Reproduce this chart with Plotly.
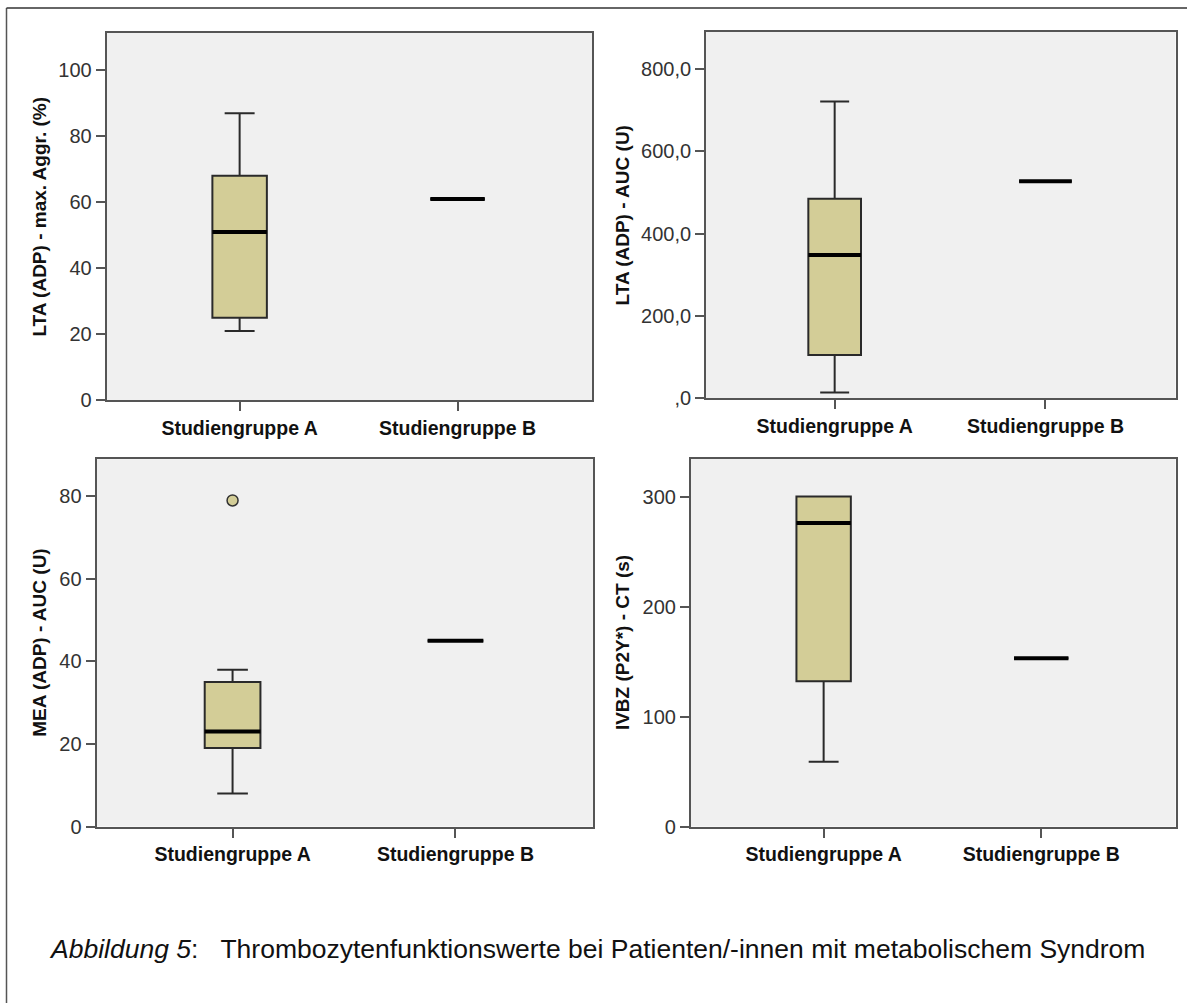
import plotly.graph_objects as go

W, H = 1187, 1003

groups = ["Studiengruppe A", "Studiengruppe B"]

# box statistics per group: [lower whisker, Q1, median, Q3, upper whisker]
lta_max_A = [21, 25, 51, 68, 87]
lta_max_B = [61, 61, 61, 61, 61]

lta_auc_A = [14, 105, 348, 485, 721]
lta_auc_B = [527, 527, 527, 527, 527]

mea_auc_A = [8, 19, 23, 35, 38]
mea_auc_B = [45, 45, 45, 45, 45]
mea_auc_A_outliers = [79]

ivbz_ct_A = [59, 132, 276, 300, 300]
ivbz_ct_B = [153, 153, 153, 153, 153]

y_titles = ["LTA (ADP) - max. Aggr. (%)", "LTA (ADP) - AUC (U)",
            "MEA (ADP) - AUC (U)", "IVBZ (P2Y*) - CT (s)"]

lta_max_ticks = [0, 20, 40, 60, 80, 100]
lta_max_ticktext = ["0", "20", "40", "60", "80", "100"]
lta_auc_ticks = [0, 200, 400, 600, 800]
lta_auc_ticktext = [",0", "200,0", "400,0", "600,0", "800,0"]
mea_auc_ticks = [0, 20, 40, 60, 80]
mea_auc_ticktext = ["0", "20", "40", "60", "80"]
ivbz_ct_ticks = [0, 100, 200, 300]
ivbz_ct_ticktext = ["0", "100", "200", "300"]

caption = ("<i>Abbildung 5</i>:\u00a0\u00a0\u00a0Thrombozytenfunktionswerte bei "
           "Patienten/-innen mit metabolischem Syndrom")

KHAKI = "#D3CD97"
FONT = "Liberation Sans, Arial, sans-serif"

panels = [
    dict(A=lta_max_A, B=lta_max_B, out=[], yr=[0, 111.3], tv=lta_max_ticks, tt=lta_max_ticktext,
         xd=[106.7, 592], yd=[33.3, 404.7]),
    dict(A=lta_auc_A, B=lta_auc_B, out=[], yr=[0, 890], tv=lta_auc_ticks, tt=lta_auc_ticktext,
         xd=[706.1, 1175.5], yd=[32.3, 402.7]),
    dict(A=mea_auc_A, B=mea_auc_B, out=mea_auc_A_outliers, yr=[0, 89], tv=mea_auc_ticks, tt=mea_auc_ticktext,
         xd=[96.6, 593], yd=[464.3, 835.7]),
    dict(A=ivbz_ct_A, B=ivbz_ct_B, out=[], yr=[0, 334.2], tv=ivbz_ct_ticks, tt=ivbz_ct_ticktext,
         xd=[690.9, 1175.5], yd=[464.0, 835.7]),
]

fig = go.Figure()
layout = {}
annotations = []

for i, p in enumerate(panels):
    n = "" if i == 0 else str(i + 1)
    xa, ya = "x" + n, "y" + n
    for grp, stats in zip(groups, [p["A"], p["B"]]):
        lo, q1, med, q3, hi = stats
        fig.add_trace(go.Box(
            x=[grp], lowerfence=[lo], q1=[q1], median=[med], q3=[q3], upperfence=[hi],
            width=0.25, whiskerwidth=0.55, fillcolor=KHAKI,
            line=dict(color="#2a2a2a", width=2), boxpoints=False,
            xaxis=xa, yaxis=ya, showlegend=False, hoverinfo="skip"))
        fig.add_trace(go.Box(
            x=[grp], lowerfence=[med], q1=[med], median=[med], q3=[med], upperfence=[med],
            width=0.25, whiskerwidth=0.0, fillcolor="rgba(0,0,0,0)",
            line=dict(color="#000000", width=4), boxpoints=False,
            xaxis=xa, yaxis=ya, showlegend=False, hoverinfo="skip"))
    if p["out"]:
        fig.add_trace(go.Scatter(
            x=[groups[0]] * len(p["out"]), y=p["out"], mode="markers",
            marker=dict(size=11, color=KHAKI, line=dict(color="#333333", width=1.5)),
            xaxis=xa, yaxis=ya, showlegend=False, hoverinfo="skip"))

    layout["xaxis" + n] = dict(
        domain=[p["xd"][0] / W, p["xd"][1] / W], anchor=ya,
        type="category", categoryorder="array", categoryarray=groups,
        range=[-0.61, 1.617], showline=True, mirror=True, linecolor="#555555", linewidth=2,
        ticks="outside", ticklen=9, tickwidth=1.5, tickcolor="#555555",
        showgrid=False, zeroline=False,
        tickfont=dict(family=FONT, size=19.5, color="#111111", weight="bold"))
    layout["yaxis" + n] = dict(
        domain=[(H - p["yd"][1]) / H, (H - p["yd"][0]) / H], anchor=xa,
        range=p["yr"], tickmode="array", tickvals=p["tv"], ticktext=p["tt"],
        showline=True, mirror=True, linecolor="#555555", linewidth=2,
        ticks="outside", ticklen=9, tickwidth=1.5, tickcolor="#555555",
        showgrid=False, zeroline=False,
        tickfont=dict(family=FONT, size=20, color="#333333"))
    title_x = 40 if i % 2 == 0 else 622.4
    annotations.append(dict(
        text=y_titles[i], textangle=-90, xref="paper", yref="paper",
        x=title_x / W, y=(H - (p["yd"][0] + p["yd"][1]) / 2) / H,
        xanchor="center", yanchor="middle", showarrow=False,
        font=dict(family=FONT, size=19, color="#111111", weight="bold")))

annotations.append(dict(
    text=caption, xref="paper", yref="paper", x=47 / W, y=(H - 960) / H,
    xanchor="left", yanchor="middle", showarrow=False,
    font=dict(family=FONT, size=26.5, color="#111111")))

shapes = [
    dict(type="line", xref="paper", yref="paper", x0=6.5 / W, x1=6.5 / W,
         y0=(H - 8) / H, y1=-0.05, line=dict(color="#555555", width=1.5)),
    dict(type="line", xref="paper", yref="paper", x0=6.5 / W, x1=1.05,
         y0=(H - 8) / H, y1=(H - 8) / H, line=dict(color="#333333", width=1.5)),
]

fig.update_layout(
    width=W, height=H, margin=dict(l=0, r=0, t=0, b=0),
    paper_bgcolor="white", plot_bgcolor="#F0F0F0",
    boxmode="overlay", showlegend=False,
    annotations=annotations, shapes=shapes,
    font=dict(family=FONT),
    **layout)

fig.write_html("out.html")
